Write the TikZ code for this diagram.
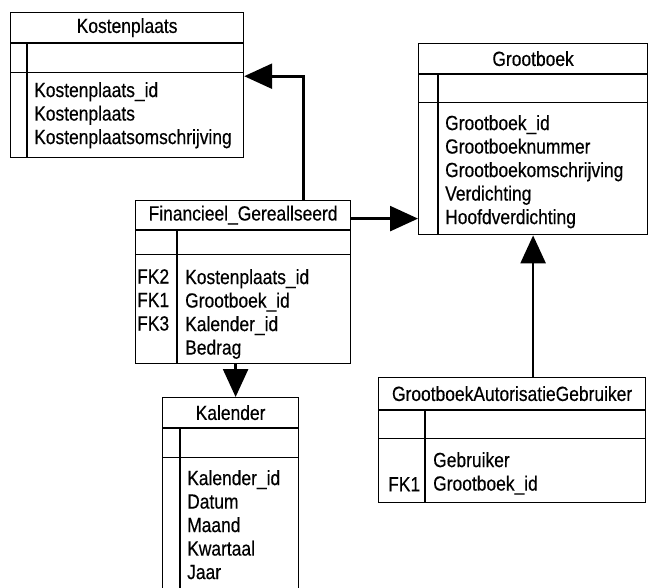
\documentclass[tikz,border=0pt]{standalone}
\usepackage{fontspec}
\setmainfont{Liberation Sans}[FakeStretch=0.85,FakeBold=0.4]
\usetikzlibrary{arrows.meta,positioning}

\begin{document}
\begin{tikzpicture}[x=1pt,y=-1pt,
    every node/.style={inner sep=0pt,anchor=north west},
    hdr/.style={draw,line width=1.2pt,font=\fontsize{20.5}{24}\selectfont},
    box/.style={draw,line width=1.2pt},
    attr/.style={align=left,font=\fontsize{20.5}{23.5}\selectfont},
    fk/.style={line width=2.6pt,-{Triangle[length=28pt,width=25pt]}}]
  \useasboundingbox (0,0) rectangle (650,587);
  % Kostenplaats
  \node[hdr,minimum width=233pt,minimum height=30pt] (kp) at (10,12) {Kostenplaats};
  \node[box,minimum width=233pt,minimum height=114pt] (kpb) at (kp.south west) {};
  \draw[line width=1.2pt] ([yshift=-29pt]kpb.north west) -- ([yshift=-29pt]kpb.north east)
    ([xshift=17pt]kpb.north west) -- ([xshift=17pt]kpb.south west);
  \node[attr] (kpa) at (34,82) {Kostenplaats\_id\\Kostenplaats\\Kostenplaatsomschrijving};
  % Grootboek
  \node[hdr,minimum width=229pt,minimum height=30pt] (gb) at (418,43) {Grootboek};
  \node[box,minimum width=229pt,minimum height=160pt] (gbb) at (gb.south west) {};
  \draw[line width=1.2pt] ([yshift=-28pt]gbb.north west) -- ([yshift=-28pt]gbb.north east)
    ([xshift=20pt]gbb.north west) -- ([xshift=20pt]gbb.south west);
  \node[attr] (gba) at (445,115) {Grootboek\_id\\Grootboeknummer\\Grootboekomschrijving\\Verdichting\\Hoofdverdichting};
  % Financieel_Gereallseerd
  \node[hdr,minimum width=215pt,minimum height=29pt] (fin) at (135,200) {Financieel\_Gereallseerd};
  \node[box,minimum width=215pt,minimum height=133pt] (finb) at (fin.south west) {};
  \draw[line width=1.2pt] ([yshift=-24pt]finb.north west) -- ([yshift=-24pt]finb.north east)
    ([xshift=42pt]finb.north west) -- ([xshift=42pt]finb.south west);
  \node[attr] (finfk) at (137,269) {FK2\\FK1\\FK3};
  \node[attr] (fina) at (185,269) {Kostenplaats\_id\\Grootboek\_id\\Kalender\_id\\Bedrag};
  % Kalender
  \node[hdr,minimum width=136pt,minimum height=30pt] (kal) at (162,397) {Kalender};
  \node[box,minimum width=136pt,minimum height=200pt] (kalb) at (kal.south west) {};
  \draw[line width=1.2pt] ([yshift=-29pt]kalb.north west) -- ([yshift=-29pt]kalb.north east)
    ([xshift=18pt]kalb.north west) -- ([xshift=18pt]kalb.south west);
  \node[attr] (kala) at (187,470) {Kalender\_id\\Datum\\Maand\\Kwartaal\\Jaar};
  % GrootboekAutorisatieGebruiker
  \node[hdr,minimum width=267pt,minimum height=32pt] (gag) at (378,377) {GrootboekAutorisatieGebruiker};
  \node[box,minimum width=267pt,minimum height=92pt] (gagb) at (gag.south west) {};
  \draw[line width=1.2pt] ([yshift=-28pt]gagb.north west) -- ([yshift=-28pt]gagb.north east)
    ([xshift=47pt]gagb.north west) -- ([xshift=47pt]gagb.south west);
  \node[attr] (gagfk) at (388,477) {FK1};
  \node[attr] (gaga) at (433,452) {Gebruiker\\Grootboek\_id};
  % relaties
  \draw[fk] ([xshift=60.5pt]fin.north) |- ([yshift=-33pt]kpb.north east);
  \draw[fk] ([yshift=-3.5pt]fin.east) -- ([yshift=-3.5pt]fin.east -| gbb.west);
  \draw[fk] ([xshift=-7.5pt]finb.south) -- ([xshift=-7.5pt]finb.south |- kal.north);
  \draw[fk] (gag.north -| gbb.south) -- (gbb.south);
\end{tikzpicture}
\end{document}
